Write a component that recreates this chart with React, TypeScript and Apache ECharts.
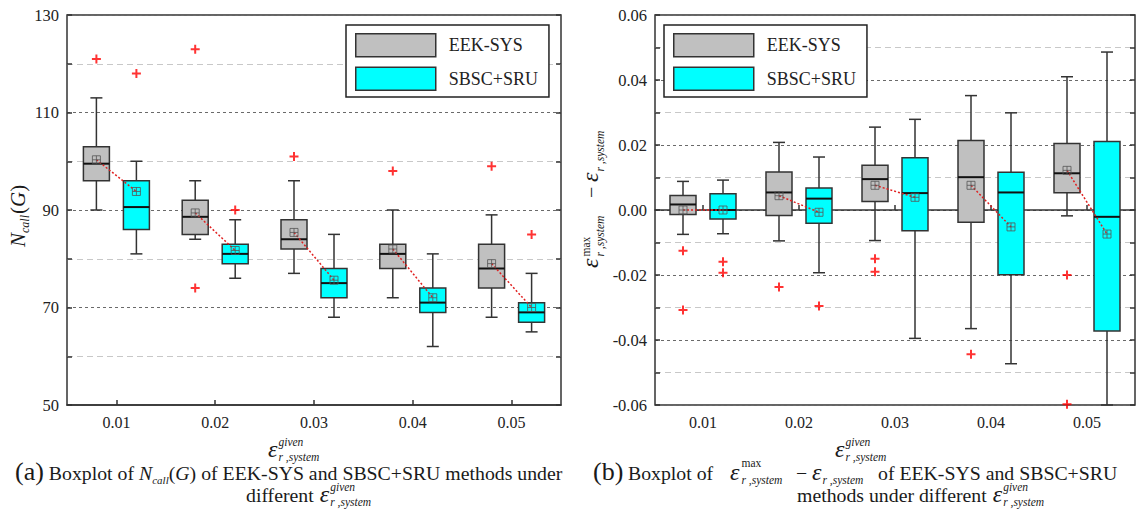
import React, { useEffect, useRef } from 'react';
import * as echarts from 'echarts';

const FONT = "'Liberation Serif', serif";

const categories = ['0.01', '0.02', '0.03', '0.04', '0.05'];
const methods = ['EEK-SYS', 'SBSC+SRU'];

// (a) N_call(G): [min, Q1, median, Q3, max]
const ncallEek = [[90, 96, 99.5, 103, 113], [84, 85, 88.6, 92, 96], [77, 82, 84, 88, 96], [72, 78, 81, 83, 90], [68, 74, 78, 83, 89]];
const ncallSbsc = [[81, 86, 90.6, 96, 100], [76, 79, 81, 83, 88], [68, 72, 75, 78, 85], [62, 69, 71, 74, 81], [65, 67, 69, 71, 77]];
const ncallEekMean = [100.3, 89.4, 85.4, 82, 79];
const ncallSbscMean = [93.8, 81.7, 75.6, 72, 70];
const ncallEekOut = [[0, 121], [1, 123], [1, 74], [2, 101], [3, 98], [4, 99]];
const ncallSbscOut = [[0, 118], [1, 90], [4, 85]];

// (b) error difference: [min, Q1, median, Q3, max]
const errEek = [[-0.0075, -0.0014, 0.0017, 0.0045, 0.0088], [-0.0095, -0.0017, 0.0054, 0.0117, 0.0208], [-0.0094, 0.0026, 0.0095, 0.0138, 0.0255], [-0.0365, -0.0038, 0.0101, 0.0214, 0.0352], [-0.0018, 0.0053, 0.0113, 0.0205, 0.041]];
const errSbsc = [[-0.0073, -0.0028, 0.0, 0.005, 0.0092], [-0.0193, -0.0041, 0.0035, 0.0068, 0.0163], [-0.0395, -0.0064, 0.0052, 0.0161, 0.0279], [-0.0473, -0.0199, 0.0054, 0.0116, 0.0299], [-0.06, -0.0372, -0.0021, 0.0211, 0.0486]];
const errEekMean = [0, 0.0044, 0.0076, 0.0076, 0.0122];
const errSbscMean = [0, -0.0007, 0.0039, -0.0052, -0.0074];
const errEekOut = [[0, -0.0125], [0, -0.0308], [1, -0.0237], [2, -0.015], [2, -0.019], [3, -0.0444], [4, -0.02], [4, -0.0598]];
const errSbscOut = [[0, -0.0159], [0, -0.0193], [1, -0.0295]];

const GRAY = '#c0c0c0';
const CYAN = '#00ffff';
const OFF = 20;

let ctx: CanvasRenderingContext2D | null = null;
function tw(t: string, s: number, i: boolean) {
  if (!ctx) ctx = document.createElement('canvas').getContext('2d');
  ctx!.font = `${i ? 'italic ' : ''}${s}px 'Liberation Serif'`;
  return ctx!.measureText(t).width;
}

type Part = { t: string; s: number; i?: boolean; dy?: number; stack?: boolean; g?: number; at?: number };
function mathGroup(parts: Part[], x: number, y: number, rotate = false) {
  let cursor = 0, lastStart = 0, lastW = 0;
  const children: any[] = [];
  for (const p of parts) {
    const w = tw(p.t, p.s, !!p.i);
    let px: number;
    if (p.stack) {
      px = lastStart;
      lastW = Math.max(lastW, w);
      cursor = lastStart + lastW;
    } else {
      px = p.at !== undefined ? p.at : cursor + (p.g || 0);
      lastStart = px;
      lastW = w;
      cursor = px + w;
    }
    const font = `${p.i ? 'italic ' : ''}${p.s}px ${FONT}`;
    children.push({
      type: 'text', x: px, y: (p.dy || 0) - 0.34 * p.s,
      style: { text: p.t, fill: '#1a1a1a', font, align: 'left', verticalAlign: 'middle', textAlign: 'left', textVerticalAlign: 'middle' },
    });
  }
  return { type: 'group', x, y, rotation: rotate ? Math.PI / 2 : 0, children };
}

const SUP = -11, SUB = 4, SS = 11.5, ES = 24, CS = 19.8;
const epsGiven: Part[] = [
  { t: 'ε', s: ES, i: true },
  { t: 'given', s: SS, i: true, dy: SUP, g: 1 },
  { t: 'r ,system', s: SS, i: true, dy: SUB, stack: true },
];

function boxRender(offset: number, fill: string) {
  return (params: any, api: any) => {
    const i = api.value(0);
    const pts = [1, 2, 3, 4, 5].map((k) => api.coord([i, api.value(k)]));
    const cx = pts[0][0] + offset;
    const [yMin, yQ1, yMed, yQ3, yMax] = pts.map((p: number[]) => p[1]);
    const hw = 13, cw = 6;
    const st = { stroke: '#333', lineWidth: 1.5 };
    return {
      type: 'group',
      children: [
        { type: 'line', shape: { x1: cx, y1: yMax, x2: cx, y2: yQ3 }, style: st },
        { type: 'line', shape: { x1: cx, y1: yQ1, x2: cx, y2: yMin }, style: st },
        { type: 'line', shape: { x1: cx - cw, y1: yMax, x2: cx + cw, y2: yMax }, style: st },
        { type: 'line', shape: { x1: cx - cw, y1: yMin, x2: cx + cw, y2: yMin }, style: st },
        { type: 'rect', shape: { x: cx - hw, y: yQ3, width: 2 * hw, height: yQ1 - yQ3 }, style: { fill, stroke: '#333', lineWidth: 1.5 } },
        { type: 'line', shape: { x1: cx - hw, y1: yMed, x2: cx + hw, y2: yMed }, style: { stroke: '#111', lineWidth: 2 } },
      ],
    };
  };
}

function meanLineRender(params: any, api: any) {
  const i = api.value(0);
  const a = api.coord([i, api.value(1)]);
  const b = api.coord([i, api.value(2)]);
  return {
    type: 'line',
    shape: { x1: a[0] - OFF, y1: a[1], x2: b[0] + OFF, y2: b[1] },
    style: { stroke: '#e02020', lineWidth: 1.5, lineDash: [2, 2] },
  };
}

const MEAN_SYM = 'path://M0,0H10V10H0ZM5,0V10M0,5H10';
const PLUS_SYM = 'path://M5,0V10M0,5H10';

function panelSeries(xi: number, yi: number, eek: number[][], sbsc: number[][], em: number[], sm: number[], eo: number[][], so: number[][]) {
  const common = { xAxisIndex: xi, yAxisIndex: yi };
  return [
    { ...common, type: 'custom', name: methods[0], itemStyle: { color: GRAY }, renderItem: boxRender(-OFF, GRAY), encode: { x: 0, y: [1, 2, 3, 4, 5] }, data: eek.map((v, i) => [i, ...v]) },
    { ...common, type: 'custom', name: methods[1], itemStyle: { color: CYAN }, renderItem: boxRender(OFF, CYAN), encode: { x: 0, y: [1, 2, 3, 4, 5] }, data: sbsc.map((v, i) => [i, ...v]) },
    { ...common, type: 'custom', name: 'meanLine', renderItem: meanLineRender, encode: { x: 0, y: [1, 2] }, data: em.map((v, i) => [i, v, sm[i]]) },
    { ...common, type: 'scatter', name: 'meanE', symbol: MEAN_SYM, symbolSize: 8, symbolOffset: [-OFF, 0], itemStyle: { color: 'rgba(0,0,0,0)', borderColor: '#555', borderWidth: 1 }, data: em.map((v, i) => [i, v]) },
    { ...common, type: 'scatter', name: 'meanS', symbol: MEAN_SYM, symbolSize: 8, symbolOffset: [OFF, 0], itemStyle: { color: 'rgba(0,0,0,0)', borderColor: '#555', borderWidth: 1 }, data: sm.map((v, i) => [i, v]) },
    { ...common, type: 'scatter', name: 'outE', symbol: PLUS_SYM, symbolSize: 9, symbolOffset: [-OFF, 0], itemStyle: { color: 'rgba(0,0,0,0)', borderColor: '#ff0000', borderWidth: 2 }, data: eo },
    { ...common, type: 'scatter', name: 'outS', symbol: PLUS_SYM, symbolSize: 9, symbolOffset: [OFF, 0], itemStyle: { color: 'rgba(0,0,0,0)', borderColor: '#ff0000', borderWidth: 2 }, data: so },
  ];
}

function xAxis(gridIndex: number) {
  return {
    type: 'category', gridIndex, data: categories, boundaryGap: true,
    axisLine: { show: true, lineStyle: { color: '#333', width: 1.5 } },
    axisTick: { show: true, inside: true, alignWithLabel: true, length: 5, lineStyle: { color: '#333', width: 1.5 } },
    axisLabel: { color: '#222', fontFamily: FONT, fontSize: 16, margin: 9 },
    splitLine: { show: false },
  };
}

function yAxis(gridIndex: number, min: number, max: number, interval: number, side: 'left' | 'right', fmt?: (v: number) => string) {
  const main = side === 'left';
  return {
    type: 'value', gridIndex, min, max, interval, position: side,
    axisLine: { show: false },
    axisTick: { show: true, inside: true, length: 5, lineStyle: { color: '#333', width: 1.5 } },
    minorTick: { show: true, splitNumber: 2, length: 5, lineStyle: { color: '#333', width: 1.5 } },
    axisLabel: { show: main, color: '#222', fontFamily: FONT, fontSize: 16.5, margin: 8, formatter: fmt },
    splitLine: { show: main, lineStyle: { color: '#6a6a6a', type: [3, 3], width: 1.2 } },
    minorSplitLine: { show: main, lineStyle: { color: '#c8c8c8', type: [6, 4], width: 1.2 } },
  };
}

function legend(left: number) {
  return {
    left, top: 25, orient: 'vertical', itemWidth: 80, itemHeight: 23, itemGap: 9,
    padding: [8, 11, 6, 9], backgroundColor: '#fff', borderColor: '#222', borderWidth: 1.5,
    selectedMode: false,
    textStyle: { fontFamily: FONT, fontSize: 18, color: '#222', padding: [0, 0, 0, 8] },
    itemStyle: { borderColor: '#333', borderWidth: 1.5 },
    data: [{ name: methods[0], icon: 'rect' }, { name: methods[1], icon: 'rect' }],
  };
}

function buildOption() {
  const errFmt = (v: number) => (Math.abs(v) < 1e-9 ? '0.00' : v.toFixed(2));
  const graphic = [
    // left y-axis title
    mathGroup([
      { t: 'N', s: 21, i: true },
      { t: 'call', s: 12, i: true, dy: 4 },
      { t: '(', s: 21, g: 1 },
      { t: 'G', s: 21, i: true },
      { t: ')', s: 21 },
    ], 25, 247, true),
    // right y-axis title
    mathGroup([
      { t: 'ε', s: ES, i: true },
      { t: 'max', s: SS, dy: -8, g: 2 },
      { t: 'r ,system', s: SS, i: true, dy: SUB + 2, stack: true },
      { t: '−', s: 20, at: 70 },
      { t: 'ε', s: ES, i: true, at: 86 },
      { t: 'r ,system', s: SS, i: true, dy: SUB + 2, g: 1 },
    ], 598, 268, true),
    // x-axis titles
    mathGroup(epsGiven, 268, 457),
    mathGroup(epsGiven, 835, 457),
    // caption (a)
    mathGroup([
      { t: '(a)', s: 26 },
      { t: 'Boxplot of', s: CS, g: 5 },
      { t: 'N', s: CS, i: true, g: 5 },
      { t: 'call', s: 11, i: true, dy: 4 },
      { t: '(', s: CS },
      { t: 'G', s: CS, i: true },
      { t: ')', s: CS },
      { t: 'of EEK-SYS and SBSC+SRU methods under', s: CS, g: 5 },
    ], 15, 480),
    mathGroup([
      { t: 'different', s: CS },
      { t: 'ε', s: ES, i: true, g: 6 },
      { t: 'given', s: SS, i: true, dy: SUP, g: 1 },
      { t: 'r ,system', s: SS, i: true, dy: SUB, stack: true },
    ], 246, 502),
    // caption (b)
    mathGroup([
      { t: '(b)', s: 26 },
      { t: 'Boxplot of', s: CS, at: 35 },
      { t: 'ε', s: ES, i: true, at: 137 },
      { t: 'max', s: SS, dy: -13, g: 2 },
      { t: 'r ,system', s: SS, i: true, dy: SUB, stack: true },
      { t: '−', s: CS, at: 203 },
      { t: 'ε', s: ES, i: true, at: 219 },
      { t: 'r ,system', s: SS, i: true, dy: SUB, g: 1 },
      { t: 'of EEK-SYS and SBSC+SRU', s: CS, at: 285 },
    ], 593, 480),
    mathGroup([
      { t: 'methods under different', s: CS },
      { t: 'ε', s: ES, i: true, g: 6 },
      { t: 'given', s: SS, i: true, dy: SUP, g: 1 },
      { t: 'r ,system', s: SS, i: true, dy: SUB, stack: true },
    ], 797, 502),
  ];

  return {
    animation: false,
    backgroundColor: '#fff',
    textStyle: { fontFamily: FONT },
    grid: [
      { left: 67, top: 15, width: 494, height: 390, show: true, borderColor: '#333', borderWidth: 1.5, backgroundColor: 'transparent' },
      { left: 655, top: 15, width: 480, height: 390, show: true, borderColor: '#333', borderWidth: 1.5, backgroundColor: 'transparent' },
    ],
    legend: [legend(346), legend(664)],
    xAxis: [xAxis(0), xAxis(1)],
    yAxis: [
      yAxis(0, 50, 130, 20, 'left'),
      yAxis(0, 50, 130, 20, 'right'),
      yAxis(1, -0.06, 0.06, 0.02, 'left', errFmt),
      yAxis(1, -0.06, 0.06, 0.02, 'right'),
    ],
    series: [
      ...panelSeries(0, 0, ncallEek, ncallSbsc, ncallEekMean, ncallSbscMean, ncallEekOut, ncallSbscOut),
      ...panelSeries(1, 2, errEek, errSbsc, errEekMean, errSbscMean, errEekOut, errSbscOut),
    ],
    graphic,
  };
}

export default function App() {
  const ref = useRef<HTMLDivElement>(null);
  useEffect(() => {
    const chart = echarts.init(ref.current!, null, { renderer: 'svg' });
    chart.setOption(buildOption() as any);
    return () => chart.dispose();
  }, []);
  return <div ref={ref} style={{ position: 'absolute', left: 0, top: 0, width: 1137, height: 509, background: '#fff' }} />;
}
